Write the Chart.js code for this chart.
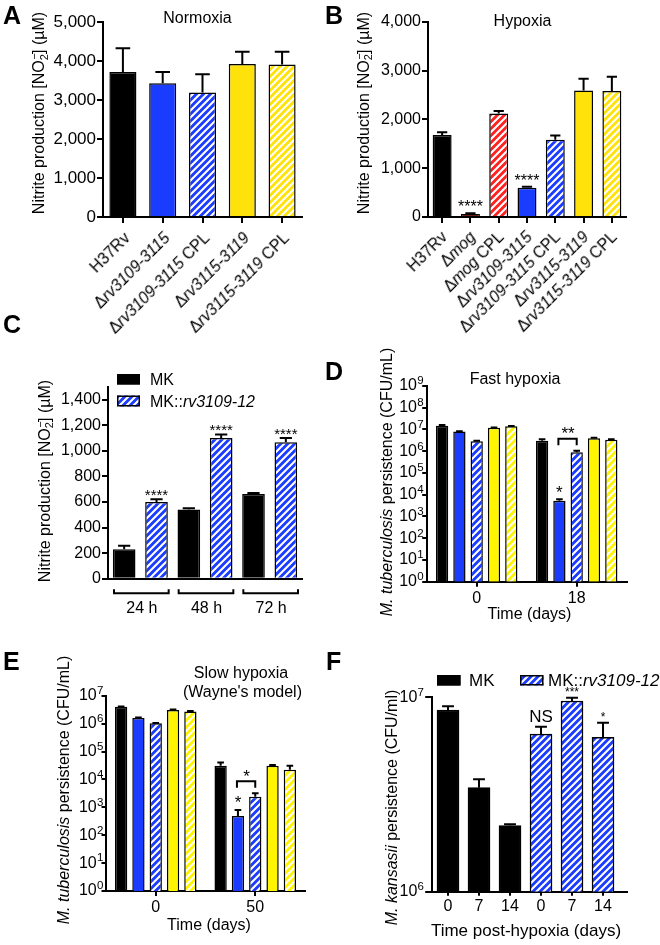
<!DOCTYPE html>
<html><head><meta charset="utf-8">
<script src="https://cdn.jsdelivr.net/npm/chart.js@4.4.1/dist/chart.umd.min.js"></script>
<style>
html,body{margin:0;padding:0;background:#fff;}
#wrap{position:relative;width:660px;height:945px;overflow:hidden;background:#fff;}
#wrap canvas{position:absolute;left:0;top:0;}
</style></head><body><div id="wrap">
<canvas id="cA" width="660" height="945"></canvas>
<canvas id="cB" width="660" height="945"></canvas>
<canvas id="cC" width="660" height="945"></canvas>
<canvas id="cD" width="660" height="945"></canvas>
<canvas id="cE" width="660" height="945"></canvas>
<canvas id="cF" width="660" height="945"></canvas>
</div>
<script>
// ================= DATA =================
// Panel A – Normoxia
const strainsA = ['H37Rv', 'Δrv3109-3115', 'Δrv3109-3115 CPL', 'Δrv3115-3119', 'Δrv3115-3119 CPL'];
const nitriteA = [3720, 3430, 3190, 3920, 3910];
const nitriteErrA = [4330, 3720, 3660, 4240, 4240];
const ticksA = [0, 1000, 2000, 3000, 4000, 5000];

// Panel B – Hypoxia
const strainsB = ['H37Rv', 'Δmog', 'Δmog CPL', 'Δrv3109-3115', 'Δrv3109-3115 CPL', 'Δrv3115-3119', 'Δrv3115-3119 CPL'];
const nitriteB = [1680, 60, 2120, 600, 1580, 2590, 2580];
const nitriteErrB = [1735, 78, 2170, 618, 1670, 2830, 2870];
const starsB = ['', '****', '', '****', '', '', ''];
const ticksB = [0, 1000, 2000, 3000, 4000];

// Panel C – M. kansasii nitrite
const timesC = ['24 h', '48 h', '72 h'];
const mkC = [230, 542, 662];
const mkErrC = [257, 552, 670];
const mkRvC = [600, 1101, 1068];
const mkRvErrC = [622, 1128, 1100];
const starsC = ['****', '****', '****'];
const ticksC = [0, 200, 400, 600, 800, 1000, 1200, 1400];

// Panels D/E strains
const strainsDE = ['H37Rv', 'Δrv3109-3115', 'Δrv3109-3115 CPL', 'Δrv3115-3119', 'Δrv3115-3119 CPL'];

// Panel D – Fast hypoxia (per strain: [day 0, day 18])
const daysD = ['0', '18'];
const cfuD_H37Rv  = [1.5e7, 3.0e6];
const cfuD_d3109  = [8.0e6, 5.3e3];
const cfuD_d3109c = [2.9e6, 9.0e5];
const cfuD_d3115  = [1.2e7, 4.0e6];
const cfuD_d3115c = [1.4e7, 3.4e6];
const errD_H37Rv  = [1.6e7, 3.6e6];
const errD_d3109  = [8.4e6, 6.2e3];
const errD_d3109c = [3.0e6, 1.05e6];
const errD_d3115  = [1.25e7, 4.2e6];
const errD_d3115c = [1.45e7, 3.6e6];
const logTicksD = [0, 1, 2, 3, 4, 5, 6, 7, 8, 9];

// Panel E – Slow hypoxia (per strain: [day 0, day 50])
const daysE = ['0', '50'];
const cfuE_H37Rv  = [4.0e6, 3.1e4];
const cfuE_d3109  = [1.6e6, 490];
const cfuE_d3109c = [1.02e6, 2400];
const cfuE_d3115  = [3.1e6, 3.1e4];
const cfuE_d3115c = [2.7e6, 2.2e4];
const errE_H37Rv  = [4.1e6, 4.0e4];
const errE_d3109  = [1.65e6, 800];
const errE_d3109c = [1.05e6, 3200];
const errE_d3115  = [3.2e6, 3.3e4];
const errE_d3115c = [2.8e6, 3.1e4];
const logTicksE = [0, 1, 2, 3, 4, 5, 6, 7];

// Panel F – M. kansasii persistence
const daysF = ['0', '7', '14', '0', '7', '14'];
const mkF = [8.6e6, 3.43e6, 2.19e6];
const mkErrF = [9.0e6, 3.79e6, 2.22e6];
const mkRvF = [6.47e6, 9.57e6, 6.22e6];
const mkRvErrF = [7.06e6, 9.95e6, 7.4e6];
const starsF = ['NS', '***', '*'];
const logTicksF = [6, 7];

// ================= HELPERS =================
const FF = '"Liberation Sans", Arial, sans-serif';
const PW = 660, PH = 945, YW = 60, XH = 30;
Chart.defaults.font.family = FF;
Chart.defaults.color = '#000';

const BLACK = '#000000', BLUE = '#1a3cff', RED = '#ff2020', DARKRED = '#6b1c14';
const YEL_A = '#ffe20a', YEL_D = '#fff500';

function hatch(bg, fg) {
  const c = document.createElement('canvas'); c.width = 7; c.height = 7;
  const g = c.getContext('2d');
  g.fillStyle = bg; g.fillRect(0, 0, 7, 7);
  g.strokeStyle = fg || '#ffffff'; g.lineWidth = 2.1;
  g.beginPath();
  g.moveTo(-1, 8); g.lineTo(8, -1);
  g.moveTo(-1, 1); g.lineTo(1, -1);
  g.moveTo(6, 8); g.lineTo(8, 6);
  g.stroke();
  return g.createPattern(c, 'repeat');
}

function segFont(s, size, bold) {
  const sz = (s.sub || s.sup) ? size * 0.68 : size;
  return (s.i ? 'italic ' : '') + ((s.b || bold) ? 'bold ' : '') + sz + 'px ' + FF;
}
function richWidth(ctx, segs, size, bold) {
  let w = 0;
  segs.forEach(s => {
    ctx.font = segFont(s, size, bold);
    let a = ctx.measureText(s.t).width;
    if (s.over) a = Math.max(a, ctx.measureText(s.over).width);
    w += a;
  });
  return w;
}
function drawRich(ctx, segs, x, y, size, align, bold) {
  const w = richWidth(ctx, segs, size, bold);
  let cx = align === 'center' ? x - w / 2 : align === 'right' ? x - w : x;
  ctx.textAlign = 'left';
  segs.forEach(s => {
    ctx.font = segFont(s, size, bold);
    const off = s.sub ? size * 0.3 : s.sup ? -size * 0.4 : 0;
    ctx.fillText(s.t, cx, y + off);
    let a = ctx.measureText(s.t).width;
    if (s.over) { ctx.fillText(s.over, cx + 0.5, y - size * 0.3); a = Math.max(a, ctx.measureText(s.over).width); }
    cx += a;
  });
}
function strainSegs(name) {
  if (name[0] !== 'Δ') return [{ t: name }];
  const rest = name.slice(1); const sp = rest.indexOf(' ');
  if (sp < 0) return [{ t: 'Δ' }, { t: rest, i: true }];
  return [{ t: 'Δ' }, { t: rest.slice(0, sp), i: true }, { t: rest.slice(sp) }];
}
const mkRvSegs = [{ t: 'MK::' }, { t: 'rv3109-12', i: true }];

// render a label horizontally into its own small canvas (used for the slanted category labels)
function labelImage(segs, size) {
  const c = document.createElement('canvas');
  const g = c.getContext('2d');
  const w = richWidth(g, segs, size);
  const pad = 3, base = Math.ceil(size * 1.1) + pad;
  c.width = Math.ceil(w) + 2 * pad; c.height = base + Math.ceil(size * 0.35) + pad;
  g.fillStyle = '#000'; g.textBaseline = 'alphabetic';
  drawRich(g, segs, pad, base, size, 'left');
  return { img: c, w: w, pad: pad, base: base };
}

const gridCfg = (len) => ({ drawOnChartArea: false, drawTicks: true, tickLength: len, tickWidth: 2, tickColor: '#000', lineWidth: 2, color: '#000', offset: false });
const borderCfg = { display: true, color: '#000', width: 2 };

function yLinear(max, ticksArr, size) {
  return {
    type: 'linear', min: 0, max: max,
    afterBuildTicks: s => { s.ticks = ticksArr.map(v => ({ value: v })); },
    ticks: { font: { size: size, family: FF }, color: '#000', padding: 1, callback: v => Number(v).toLocaleString('en-US') },
    grid: gridCfg(6), border: borderCfg,
    afterFit: s => { s.width = YW; }
  };
}
function yLog(expArr, tl) {
  return {
    type: 'logarithmic', min: Math.pow(10, expArr[0]), max: Math.pow(10, expArr[expArr.length - 1]),
    afterBuildTicks: s => { s.ticks = expArr.map(e => ({ value: Math.pow(10, e), major: true })); },
    ticks: { display: false },
    grid: gridCfg(tl), border: borderCfg,
    afterFit: s => { s.width = YW; }
  };
}
function xCat(showTicks, tl, labelsShown, size, pad) {
  return {
    type: 'category', offset: true,
    grid: Object.assign(gridCfg(tl), { display: showTicks }),
    border: borderCfg,
    ticks: { display: labelsShown, font: { size: size || 16, family: FF }, color: '#000', padding: pad || 2, maxRotation: 0, minRotation: 0, autoSkip: false },
    afterFit: s => { s.height = XH; }
  };
}

const errPlugin = {
  id: 'errbars',
  afterDatasetsDraw(chart) {
    const ctx = chart.ctx, y = chart.scales.y;
    chart.data.datasets.forEach((ds, di) => {
      if (!ds.err) return;
      chart.getDatasetMeta(di).data.forEach((el, i) => {
        const v = ds.err[i]; if (v == null) return;
        const yt = y.getPixelForValue(v);
        const hw = el.width * 0.27;
        ctx.save(); ctx.strokeStyle = '#000'; ctx.lineWidth = 2; ctx.lineCap = 'butt';
        ctx.beginPath(); ctx.moveTo(el.x, el.y); ctx.lineTo(el.x, yt);
        ctx.moveTo(el.x - hw, yt); ctx.lineTo(el.x + hw, yt); ctx.stroke(); ctx.restore();
      });
    });
  }
};
const starPlugin = {
  id: 'stars',
  afterDatasetsDraw(chart) {
    const ctx = chart.ctx, y = chart.scales.y;
    chart.data.datasets.forEach((ds, di) => {
      if (!ds.stars) return;
      chart.getDatasetMeta(di).data.forEach((el, i) => {
        const t = ds.stars[i]; if (!t) return;
        const top = ds.err ? y.getPixelForValue(ds.err[i]) : el.y;
        const ns = t === 'NS';
        ctx.save(); ctx.fillStyle = '#000';
        ctx.font = (ns ? 17 : ds.starSize) + 'px ' + FF;
        ctx.textAlign = 'center'; ctx.textBaseline = 'alphabetic';
        ctx.fillText(t, el.x, top + (ns ? -5 : (ds.starOff || -1)));
        ctx.restore();
      });
    });
  }
};
function textLayer(items) {
  return {
    id: 'texts',
    afterDraw(chart) {
      const ctx = chart.ctx;
      items.forEach(it => {
        ctx.save(); ctx.fillStyle = '#000';
        ctx.textBaseline = it.base || 'alphabetic';
        ctx.translate(it.x, it.y); if (it.rot) ctx.rotate(it.rot);
        drawRich(ctx, it.segs, 0, 0, it.size, it.align || 'left', it.bold);
        ctx.restore();
      });
    }
  };
}
function rotLabels(names, size, ox, oy) {
  const imgs = names.map(n => labelImage(strainSegs(n), size));
  return {
    id: 'rotlabels',
    afterDraw(chart) {
      const ctx = chart.ctx, xs = chart.scales.x, b = chart.chartArea.bottom;
      const c = Math.SQRT1_2;
      names.forEach((n, i) => {
        const px = xs.getPixelForTick(i);
        const L = imgs[i];
        ctx.save();
        // explicit 45° rotation matrix, anchored at the end of the label's baseline
        ctx.setTransform(c, -c, c, c, px + ox, b + oy);
        ctx.drawImage(L.img, -(L.w + L.pad), -L.base);
        ctx.restore();
      });
    }
  };
}
function logLabels(gap, size, supSize) {
  return {
    id: 'loglabels',
    afterDraw(chart) {
      const ctx = chart.ctx, y = chart.scales.y, ax = chart.chartArea.left;
      y.ticks.forEach(t => {
        const py = y.getPixelForValue(t.value);
        const e = Math.round(Math.log10(t.value));
        ctx.save(); ctx.fillStyle = '#000';
        ctx.font = size + 'px ' + FF; ctx.textAlign = 'right'; ctx.textBaseline = 'middle';
        ctx.fillText('10', ax - gap, py);
        ctx.font = supSize + 'px ' + FF; ctx.textAlign = 'left'; ctx.textBaseline = 'alphabetic';
        ctx.fillText(String(e), ax - gap + 0.3, py - 1.7);
        ctx.restore();
      });
    }
  };
}
function legendLayer(items, size) {
  return {
    id: 'richlegend',
    afterDraw(chart) {
      const ctx = chart.ctx;
      items.forEach(it => {
        const ds = chart.data.datasets[it.ds];
        ctx.save();
        ctx.fillStyle = ds.backgroundColor; ctx.fillRect(it.x, it.y, it.w, it.h);
        ctx.strokeStyle = '#000'; ctx.lineWidth = 1.5; ctx.strokeRect(it.x + 0.75, it.y + 0.75, it.w - 1.5, it.h - 1.5);
        ctx.fillStyle = '#000'; ctx.textBaseline = 'alphabetic';
        drawRich(ctx, it.segs, it.tx, it.y + it.h, size, 'left');
        ctx.restore();
      });
    }
  };
}
function bracketLayer(ds1, ds2, idx, text, size) {
  return {
    id: 'bracket',
    afterDatasetsDraw(chart) {
      const ctx = chart.ctx, y = chart.scales.y;
      const e1 = chart.getDatasetMeta(ds1).data[idx], e2 = chart.getDatasetMeta(ds2).data[idx];
      const t1 = y.getPixelForValue(chart.data.datasets[ds1].err[idx]);
      const t2 = y.getPixelForValue(chart.data.datasets[ds2].err[idx]);
      const bottom = Math.min(t1, t2) - 5.5, top = bottom - 6.5;
      ctx.save(); ctx.strokeStyle = '#000'; ctx.lineWidth = 2;
      ctx.beginPath(); ctx.moveTo(e1.x - 1, bottom); ctx.lineTo(e1.x - 1, top); ctx.lineTo(e2.x, top); ctx.lineTo(e2.x, bottom); ctx.stroke();
      ctx.fillStyle = '#000'; ctx.font = size + 'px ' + FF; ctx.textAlign = 'center'; ctx.textBaseline = 'alphabetic';
      ctx.fillText(text, (e1.x + e2.x) / 2, top + 0.5);
      ctx.restore();
    }
  };
}
function groupBrackets(names, size) {
  return {
    id: 'groupbrackets',
    afterDraw(chart) {
      const ctx = chart.ctx, xs = chart.scales.x, b = chart.chartArea.bottom;
      const cw = (xs.right - xs.left) / names.length;
      names.forEach((n, i) => {
        const cx = xs.getPixelForTick(i);
        const l = cx - cw / 2 + 6, r = cx + cw / 2 - 4;
        ctx.save(); ctx.strokeStyle = '#000'; ctx.lineWidth = 2;
        ctx.beginPath(); ctx.moveTo(l, b + 10.5); ctx.lineTo(l, b + 14.5); ctx.lineTo(r, b + 14.5); ctx.lineTo(r, b + 10.5); ctx.stroke();
        ctx.fillStyle = '#000'; ctx.font = size + 'px ' + FF; ctx.textAlign = 'center'; ctx.textBaseline = 'middle';
        ctx.fillText(n, cx + 1.5, b + 30);
        ctx.restore();
      });
    }
  };
}
function panel(id, box, cfg) {
  cfg.options = cfg.options || {};
  cfg.options.responsive = false;
  cfg.options.animation = false;
  cfg.options.events = [];
  cfg.options.layout = { padding: { left: box.L - YW, right: PW - box.R, top: box.T, bottom: PH - box.B - XH } };
  cfg.options.plugins = { legend: { display: false }, tooltip: { enabled: false }, title: { display: false } };
  return new Chart(document.getElementById(id), cfg);
}
const barStyle = { borderColor: '#000', borderWidth: 1.5 };
const yTitleNitrite = [{ t: 'Nitrite production [NO' }, { t: '2', sub: true, over: '−' }, { t: '] (µM)' }];

// ================= PANEL A =================
panel('cA', { L: 103, R: 302, T: 22, B: 217 }, {
  type: 'bar',
  data: { labels: strainsA, datasets: [Object.assign({
    data: nitriteA, err: nitriteErrA,
    backgroundColor: [BLACK, BLUE, hatch(BLUE), YEL_A, hatch(YEL_A)],
    barPercentage: 0.68, categoryPercentage: 1 }, barStyle)] },
  options: { scales: { x: xCat(true, 6, false), y: yLinear(5000, ticksA, 17) } },
  plugins: [errPlugin, starPlugin, rotLabels(strainsA, 16, 8, 22), textLayer([
    { segs: [{ t: 'A' }], x: 3, y: 23.5, size: 25, bold: true },
    { segs: [{ t: 'Normoxia' }], x: 197.5, y: 22.7, size: 16, align: 'center' },
    { segs: yTitleNitrite, x: 40, y: 113, size: 16, rot: -Math.PI / 2, align: 'center', base: 'middle' }
  ])]
});

// ================= PANEL B =================
panel('cB', { L: 428, R: 626, T: 21.7, B: 217 }, {
  type: 'bar',
  data: { labels: strainsB, datasets: [Object.assign({
    data: nitriteB, err: nitriteErrB, stars: starsB, starSize: 16, starOff: -1,
    backgroundColor: [BLACK, DARKRED, hatch(RED), BLUE, hatch(BLUE), YEL_A, hatch(YEL_A)],
    barPercentage: 0.67, categoryPercentage: 1 }, barStyle)] },
  options: { scales: { x: xCat(true, 6, false), y: yLinear(4000, ticksB, 16) } },
  plugins: [errPlugin, starPlugin, rotLabels(strainsB, 16, 6, 21), textLayer([
    { segs: [{ t: 'B' }], x: 325, y: 24, size: 25, bold: true },
    { segs: [{ t: 'Hypoxia' }], x: 522.5, y: 26, size: 16, align: 'center' },
    { segs: yTitleNitrite, x: 364.5, y: 113, size: 16, rot: -Math.PI / 2, align: 'center', base: 'middle' }
  ])]
});

// ================= PANEL C =================
panel('cC', { L: 108, R: 302, T: 387, B: 578.7 }, {
  type: 'bar',
  data: { labels: timesC, datasets: [
    Object.assign({ label: 'MK', data: mkC, err: mkErrC, backgroundColor: BLACK, barPercentage: 0.7, categoryPercentage: 1 }, barStyle),
    Object.assign({ label: 'MK::rv3109-12', data: mkRvC, err: mkRvErrC, stars: starsC, starSize: 15, starOff: 0.5, backgroundColor: hatch(BLUE), barPercentage: 0.7, categoryPercentage: 1 }, barStyle)
  ] },
  options: { scales: { x: xCat(false, 0, false), y: yLinear(1500, ticksC, 16) } },
  plugins: [errPlugin, starPlugin, groupBrackets(timesC, 16),
    legendLayer([
      { ds: 0, x: 117, y: 374, w: 23, h: 10.5, tx: 150, segs: [{ t: 'MK' }] },
      { ds: 1, x: 117, y: 395.5, w: 23, h: 11, tx: 150, segs: mkRvSegs }
    ], 16),
    textLayer([
      { segs: [{ t: 'C' }], x: 3, y: 333, size: 25, bold: true },
      { segs: yTitleNitrite, x: 45.5, y: 481, size: 16, rot: -Math.PI / 2, align: 'center', base: 'middle' }
    ])]
});

// ================= PANEL D =================
function strainSets(series, errs, colors, stars, starSize) {
  return series.map((d, k) => Object.assign({
    label: strainsDE[k], data: d, err: errs[k], stars: stars[k], starSize: starSize, starOff: 0,
    backgroundColor: colors[k], categoryPercentage: 0.865, barPercentage: 0.71 }, barStyle));
}
const colorsDE = [BLACK, BLUE, hatch(BLUE), YEL_D, hatch(YEL_D)];
const tbTitle = [{ t: 'M. tuberculosis', i: true }, { t: ' persistence (CFU/mL)' }];

panel('cD', { L: 426.7, R: 626.7, T: 386, B: 581.7 }, {
  type: 'bar',
  data: { labels: daysD, datasets: strainSets(
    [cfuD_H37Rv, cfuD_d3109, cfuD_d3109c, cfuD_d3115, cfuD_d3115c],
    [errD_H37Rv, errD_d3109, errD_d3109c, errD_d3115, errD_d3115c],
    colorsDE, [null, ['', '*'], null, null, null], 17) },
  options: { scales: { x: xCat(true, 5, true, 16, 2), y: yLog(logTicksD, 4.5) } },
  plugins: [errPlugin, starPlugin, bracketLayer(1, 2, 1, '**', 17), logLabels(9.7, 16, 11.5), textLayer([
    { segs: [{ t: 'D' }], x: 325, y: 380, size: 25, bold: true },
    { segs: [{ t: 'Fast hypoxia' }], x: 515, y: 383.5, size: 16, align: 'center' },
    { segs: [{ t: 'Time (days)' }], x: 529.5, y: 615, size: 16, align: 'center', base: 'middle' },
    { segs: tbTitle, x: 387.5, y: 482, size: 16, rot: -Math.PI / 2, align: 'center', base: 'middle' }
  ])]
});

// ================= PANEL E =================
panel('cE', { L: 106, R: 305, T: 695.7, B: 891 }, {
  type: 'bar',
  data: { labels: daysE, datasets: strainSets(
    [cfuE_H37Rv, cfuE_d3109, cfuE_d3109c, cfuE_d3115, cfuE_d3115c],
    [errE_H37Rv, errE_d3109, errE_d3109c, errE_d3115, errE_d3115c],
    colorsDE, [null, ['', '*'], null, null, null], 17).map(d => Object.assign(d, { categoryPercentage: 0.87, starOff: -2 })) },
  options: { scales: { x: xCat(true, 5, true, 16, 2), y: yLog(logTicksE, 4.5) } },
  plugins: [errPlugin, starPlugin, bracketLayer(1, 2, 1, '*', 17), logLabels(9.3, 16, 11.5), textLayer([
    { segs: [{ t: 'E' }], x: 3, y: 670, size: 25, bold: true },
    { segs: [{ t: 'Slow hypoxia' }], x: 241, y: 678.3, size: 16, align: 'center' },
    { segs: [{ t: "(Wayne's model)" }], x: 242.5, y: 697, size: 16, align: 'center' },
    { segs: [{ t: 'Time (days)' }], x: 209, y: 926, size: 16, align: 'center', base: 'middle' },
    { segs: tbTitle, x: 64.5, y: 790, size: 16, rot: -Math.PI / 2, align: 'center', base: 'middle' }
  ])]
});

// ================= PANEL F =================
panel('cF', { L: 431.7, R: 626.7, T: 697.3, B: 891.7 }, {
  type: 'bar',
  data: { datasets: [
    Object.assign({ label: 'MK', data: mkF.map((v, i) => ({ x: i + 1, y: v })), err: mkErrF,
      backgroundColor: BLACK, grouped: false, barThickness: 22 }, barStyle),
    Object.assign({ label: 'MK::rv3109-12', data: mkRvF.map((v, i) => ({ x: i + 1 + mkF.length, y: v })), err: mkRvErrF,
      stars: starsF, starSize: 12, starOff: -1.5, backgroundColor: hatch(BLUE), grouped: false, barThickness: 22 }, barStyle)
  ] },
  options: { scales: {
    x: { type: 'linear', min: 0.474, max: 6.764, offset: false,
      afterBuildTicks: s => { s.ticks = daysF.map((d, i) => ({ value: i + 1 })); },
      ticks: { callback: v => daysF[Math.round(v) - 1], autoSkip: false, font: { size: 16, family: FF }, color: '#000', padding: 1, maxRotation: 0 },
      grid: gridCfg(4), border: borderCfg, afterFit: s => { s.height = XH; } },
    y: yLog(logTicksF, 6.5) } },
  plugins: [errPlugin, starPlugin, logLabels(14.4, 16, 11.5),
    legendLayer([
      { ds: 0, x: 437, y: 675, w: 23.5, h: 10.5, tx: 469, segs: [{ t: 'MK' }] },
      { ds: 1, x: 520, y: 675, w: 23.5, h: 10.5, tx: 548, segs: mkRvSegs }
    ], 17),
    textLayer([
      { segs: [{ t: 'F' }], x: 326, y: 670, size: 25, bold: true },
      { segs: [{ t: 'Time post-hypoxia (days)' }], x: 526, y: 931.7, size: 17, align: 'center', base: 'middle' },
      { segs: [{ t: 'M. kansasii', i: true }, { t: ' persistence (CFU/ml)' }], x: 392.5, y: 807.5, size: 16, rot: -Math.PI / 2, align: 'center', base: 'middle' }
    ])]
});
</script></body></html>
